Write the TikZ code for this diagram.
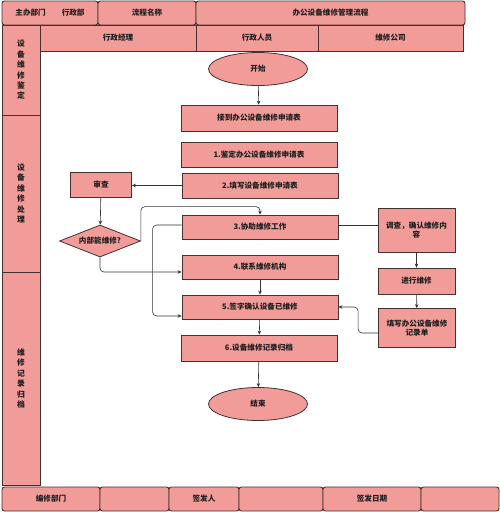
\documentclass[tikz,border=0pt]{standalone}
\usepackage{fontspec}
\setmainfont{Noto Sans CJK SC}
\usetikzlibrary{arrows.meta, shapes.geometric}
\definecolor{rose}{RGB}{241,156,153}
\definecolor{edge}{RGB}{72,48,48}
\definecolor{ink}{gray}{0.12}

\begin{document}
\begin{tikzpicture}[
  x=1pt, y=-1pt,
  font=\fontsize{7.6}{9}\selectfont\bfseries,
  cell/.style={draw=edge, fill=rose, line width=.9pt, inner sep=0pt, text=ink},
  hcell/.style={cell, rounded corners=2.5pt, minimum height=24},
  head/.style={cell, minimum height=26},
  lane/.style={cell, minimum width=38, align=center,
               font=\fontsize{7.8}{10.4}\selectfont\bfseries},
  proc/.style={cell, minimum width=156, minimum height=24, line width=.8pt},
  side/.style={cell, minimum width=77, align=center, line width=.8pt},
  term/.style={cell, ellipse, minimum width=99, minimum height=33, line width=.8pt},
  gate/.style={cell, diamond, aspect=2.5, minimum width=81, minimum height=32,
               line width=.8pt},
  arr/.style={draw=black!80, line width=.6pt, -{Stealth[length=4pt, width=3.5pt]}},
  elbow/.style={arr, rounded corners=4pt},
]
\useasboundingbox (0,0) rectangle (500,512);

% header rows
\node[hcell, minimum width=96] (dept) at (50,13) {主办部门\hspace{16pt}行政部};
\node[hcell, minimum width=98] (flowname) at (147,13) {流程名称};
\node[hcell, minimum width=269] (title) at (330.5,13) {办公设备维修管理流程};
\node[head, minimum width=156] (manager) at (118,38) {行政经理};
\node[head, minimum width=122] (staff) at (257,38) {行政人员};
\node[head, minimum width=145] (company) at (390.5,38) {维修公司};

% phase column
\node[lane, minimum height=90] (phase1) at (21,70) {设\\备\\维\\修\\鉴\\定};
\node[lane, minimum height=157] (phase2) at (21,193.5) {设\\备\\维\\修\\处\\理};
\node[lane, minimum height=213] (phase3) at (21,378.5) {维\\修\\记\\录\\归\\档};

% footer row
\foreach \a/\b/\t [count=\i] in {2/100/编修部门, 100/169/, 169/239/签发人,
    239/323/, 323/421/签发日期, 421/499/}{
  \node[hcell, minimum width=\b-\a] (foot\i) at ({(\a+\b)/2},499) {\t};
}

% flow
\node[term] (start) at (258,69) {开始};
\node[proc, minimum height=26] (recv) at (259,118) {接到办公设备维修申请表};
\node[proc, minimum height=25] (appraise) at (259,154.5) {1.鉴定办公设备维修申请表};
\node[proc, minimum height=25] (fillform) at (260,185.5) {2.填写设备维修申请表};
\node[cell, minimum width=61, minimum height=25, line width=.8pt] (check)
  at (101,184.5) {审查};
\node[gate] (internal) at (100,241) {内部能维修?};
\node[proc] (assist) at (260,227) {3.协助维修工作};
\node[proc] (contact) at (260,267) {4.联系维修机构};
\node[proc] (sign) at (260,307) {5.签字确认设备已维修};
\node[proc, minimum height=26] (archive) at (259,348) {6.设备维修记录归档};
\node[term] (finish) at (258,404) {结束};
\node[side, minimum height=44] (survey) at (416.5,230) {调查，确认维修内\\容};
\node[side, minimum height=26] (repair) at (416.5,281) {进行维修};
\node[side, minimum height=39] (record) at (417,328) {填写办公设备维修\\记录单};

\draw[arr] (start) -- (recv);
\draw[arr] (fillform.west) -- (fillform.west -| check.east);
\draw[arr] (check) -- (internal);
\draw[elbow] (internal.east) |- ([yshift=8pt]assist.north) -- (assist.north);
\draw[elbow] (internal.south) |- ([yshift=-5pt]contact.west);
\draw[elbow] ([yshift=2pt]assist.west) -- ++(-29,0) |- ([yshift=-9pt]sign.west);
\draw[arr] (contact) -- (sign);
\draw[arr] (sign) -- (archive);
\draw[arr] (archive) -- (finish);
\draw[draw=black!80, line width=.6pt] ([yshift=2pt]assist.east) -- ++(40,0);
\draw[arr] (survey) -- (repair);
\draw[arr] (repair) -- (record);
\draw[elbow] ([yshift=-5pt]record.west) -- ++(-20,0) |- (sign.east);
\end{tikzpicture}
\end{document}
